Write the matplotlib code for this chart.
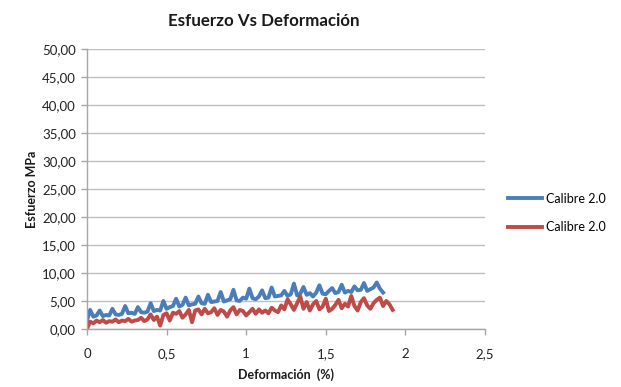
import matplotlib
matplotlib.use("Agg")
import matplotlib.pyplot as plt
from matplotlib.ticker import FuncFormatter, MultipleLocator

# Deformación (%) sampling shared by both specimens
deformacion = [0.00, 0.02, 0.04, 0.06, 0.08, 0.10, 0.12, 0.14, 0.16, 0.18,
               0.20, 0.22, 0.24, 0.26, 0.28, 0.30, 0.32, 0.34, 0.36, 0.38,
               0.40, 0.42, 0.44, 0.46, 0.48, 0.50, 0.52, 0.54, 0.56, 0.58,
               0.60, 0.62, 0.64, 0.66, 0.68, 0.70, 0.72, 0.74, 0.76, 0.78,
               0.80, 0.82, 0.84, 0.86, 0.88, 0.90, 0.92, 0.94, 0.96, 0.98,
               1.00, 1.02, 1.04, 1.06, 1.08, 1.10, 1.12, 1.14, 1.16, 1.18,
               1.20, 1.22, 1.24, 1.26, 1.28, 1.30, 1.32, 1.34, 1.36, 1.38,
               1.40, 1.42, 1.44, 1.46, 1.48, 1.50, 1.52, 1.54, 1.56, 1.58,
               1.60, 1.62, 1.64, 1.66, 1.68, 1.70, 1.72, 1.74, 1.76, 1.78,
               1.80, 1.82, 1.84, 1.86, 1.88, 1.90, 1.92]

# Esfuerzo (MPa), first specimen
esfuerzo_azul = [1.5, 3.4, 2.2, 2.4, 3.3, 2.3, 2.5, 2.4, 3.6, 2.6,
                 2.5, 2.7, 4.1, 2.8, 2.9, 2.7, 3.9, 3.0, 2.9, 3.1,
                 4.6, 3.2, 3.4, 3.3, 5.0, 3.6, 3.9, 4.1, 5.4, 4.0,
                 4.3, 5.6, 4.2, 4.4, 4.5, 5.8, 4.6, 4.5, 6.1, 4.8,
                 4.9, 5.0, 6.6, 4.9, 5.1, 5.3, 7.0, 5.1, 5.0, 5.6,
                 5.4, 7.2, 5.5, 5.3, 5.8, 6.9, 5.5, 5.6, 7.4, 5.8,
                 5.9, 6.0, 6.8, 5.9, 6.2, 8.1, 6.0, 6.3, 7.5, 6.1,
                 6.4, 5.8, 6.5, 7.8, 6.3, 6.2, 6.8, 7.3, 6.4, 6.6,
                 7.9, 6.5, 6.8, 6.6, 7.6, 6.9, 7.0, 8.2, 6.8, 7.1,
                 7.4, 8.3, 7.2, 6.5]

# Esfuerzo (MPa), second specimen
esfuerzo_rojo = [0.0, 1.3, 1.0, 1.5, 1.2, 1.6, 1.1, 1.4, 1.3, 1.7,
                 1.2, 1.5, 1.4, 1.8, 1.3, 1.5, 1.6, 2.0, 1.4, 1.7,
                 2.6, 1.6, 2.2, 0.6, 2.5, 2.8, 1.5, 2.9, 2.7, 3.2,
                 2.0, 2.6, 3.4, 1.2, 3.3, 3.5, 2.6, 3.6, 2.8, 3.0,
                 3.7, 2.5, 3.4, 3.1, 2.2, 3.3, 3.9, 2.6, 3.4, 3.2,
                 2.4, 3.0, 3.6, 2.7, 3.5, 2.9, 3.3, 2.8, 3.8, 3.3,
                 3.0, 4.2, 3.5, 5.3, 4.4, 3.4, 4.6, 5.8, 3.6, 4.8,
                 3.3, 4.4, 5.0, 3.5, 4.0, 5.4, 3.2, 3.6, 4.3, 5.2,
                 3.7, 4.5, 4.0, 5.9, 4.1, 3.3, 4.8, 5.5, 4.2, 3.6,
                 4.6, 5.2, 5.6, 4.1, 5.0, 4.4, 3.4]

series_labels = ["Calibre 2.0", "Calibre 2.0"]
series_colors = ["#4A7EBB", "#BE4B48"]

plt.rcParams["font.family"] = ["Lato", "DejaVu Sans"]

fig = plt.figure(figsize=(6.21, 3.87), dpi=100)
ax = fig.add_axes([0.140, 0.150, 0.641, 0.723])

ax.plot(deformacion[:len(esfuerzo_azul)], esfuerzo_azul,
        color=series_colors[0], lw=2.8, label=series_labels[0],
        solid_joinstyle="round")
ax.plot(deformacion[:len(esfuerzo_rojo)], esfuerzo_rojo,
        color=series_colors[1], lw=2.8, label=series_labels[1],
        solid_joinstyle="round")

ax.set_xlim(0, 2.5)
ax.set_ylim(0, 50)
ax.xaxis.set_major_locator(MultipleLocator(0.5))
ax.yaxis.set_major_locator(MultipleLocator(5))

ax.xaxis.set_major_formatter(FuncFormatter(
    lambda v, p: ("%g" % v).replace(".", ",")))
ax.yaxis.set_major_formatter(FuncFormatter(
    lambda v, p: ("%.2f" % v).replace(".", ",")))

ax.grid(axis="y", color="#BFBFBF", lw=1.0)
ax.set_axisbelow(True)
for side in ("top", "right"):
    ax.spines[side].set_visible(False)
for side in ("left", "bottom"):
    ax.spines[side].set_color("#A6A6A6")
    ax.spines[side].set_linewidth(1.0)

ax.tick_params(axis="both", colors="#A6A6A6", labelcolor="#222222",
               labelsize=9.5, length=4, width=1.0)
ax.tick_params(axis="y", pad=4)
ax.tick_params(axis="x", pad=10)

fig.text(0.425, 0.945, "Esfuerzo Vs Deformación", fontsize=12.2,
         fontweight="bold", color="#1A1A1A", ha="center", va="center")
ax.set_xlabel("Deformación  (%)", fontsize=9, fontweight="bold",
              color="#1A1A1A", labelpad=6)
ax.set_ylabel("Esfuerzo MPa", fontsize=9, fontweight="bold",
              color="#1A1A1A", labelpad=3)

fig.legend(loc="center left", bbox_to_anchor=(0.80, 0.45), frameon=False,
           fontsize=9, handlelength=2.7, labelspacing=1.3, handletextpad=0.3)

fig.savefig("out.png", dpi=100)
